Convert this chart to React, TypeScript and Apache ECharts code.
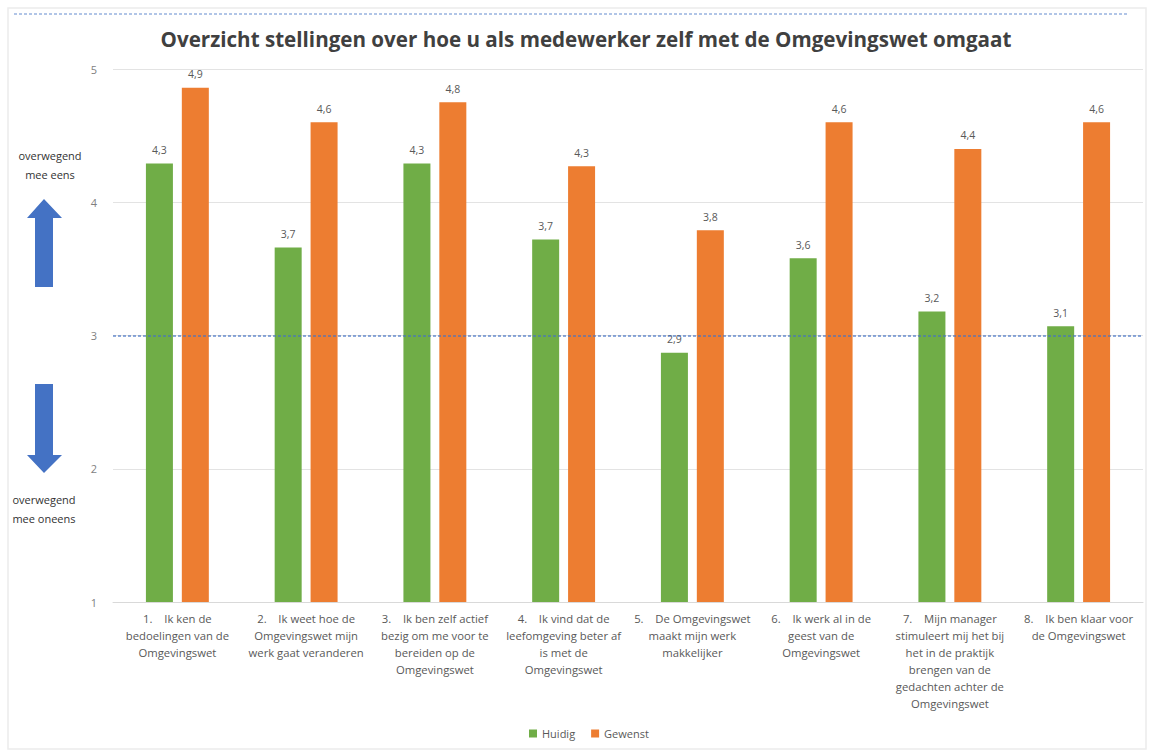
import React, { useEffect, useRef } from "react";
import * as echarts from "echarts";

const categories: string[] = [
  "1.    Ik ken de\nbedoelingen van de\nOmgevingswet",
  "2.    Ik weet hoe de\nOmgevingswet mijn\nwerk gaat veranderen",
  "3.    Ik ben zelf actief\nbezig om me voor te\nbereiden op de\nOmgevingswet",
  "4.    Ik vind dat de\nleefomgeving beter af\nis met de\nOmgevingswet",
  "5.    De Omgevingswet\nmaakt mijn werk\nmakkelijker",
  "6.    Ik werk al in de\ngeest van de\nOmgevingswet",
  "7.    Mijn manager\nstimuleert mij het bij\nhet in de praktijk\nbrengen van de\ngedachten achter de\nOmgevingswet",
  "8.    Ik ben klaar voor\nde Omgevingswet",
];
const huidig: number[] = [4.29, 3.66, 4.29, 3.72, 2.87, 3.58, 3.18, 3.07];
const gewenst: number[] = [4.86, 4.6, 4.75, 4.27, 3.79, 4.6, 4.4, 4.6];
const seriesNames = ["Huidig", "Gewenst"];
const yTicks = { min: 1, max: 5, interval: 1 };
const referenceValue = 3;
const title = "Overzicht stellingen over hoe u als medewerker zelf met de Omgevingswet omgaat";

const FONT = "'Open Sans', 'Noto Sans', sans-serif";
const GREEN = "#70AD47";
const ORANGE = "#ED7D31";
const BLUE = "#4472C4";
const TXT = "#595959";

const fmt = (p: any) => Number(p.value).toFixed(1).replace(".", ",");

export default function App() {
  const ref = useRef<HTMLDivElement>(null);
  useEffect(() => {
    document.body.style.margin = "0";
    if (!ref.current) return;
    const chart = echarts.init(ref.current, undefined, { renderer: "svg" });
    chart.setOption({
      animation: false,
      backgroundColor: "#ffffff",
      textStyle: { fontFamily: FONT },
      title: {
        text: title,
        left: 581,
        textAlign: "center",
        top: 23,
        textStyle: { fontFamily: FONT, fontSize: 20.6, fontWeight: "bold", color: "#404040" },
      },
      legend: {
        data: seriesNames,
        bottom: 9,
        left: 524,
        itemWidth: 8,
        itemHeight: 8,
        itemGap: 16,
        icon: "rect",
        textStyle: { fontFamily: FONT, fontSize: 11, color: TXT },
      },
      grid: { left: 113, right: 6, top: 69, bottom: 151, containLabel: false },
      xAxis: {
        type: "category",
        data: categories,
        axisLine: { lineStyle: { color: "#d9d9d9" } },
        axisTick: { show: false },
        axisLabel: {
          interval: 0,
          margin: 8,
          fontFamily: FONT,
          fontSize: 11.3,
          lineHeight: 17,
          color: TXT,
        },
      },
      yAxis: {
        type: "value",
        min: yTicks.min,
        max: yTicks.max,
        interval: yTicks.interval,
        axisLine: { show: false },
        axisTick: { show: false },
        splitLine: { lineStyle: { color: "#e3e3e3" } },
        axisLabel: { margin: 16, fontFamily: FONT, fontSize: 11, color: "#7f7f7f" },
      },
      series: [
        {
          name: seriesNames[0],
          type: "bar",
          data: huidig,
          barWidth: 27,
          barGap: "33%",
          itemStyle: { color: GREEN },
          label: { show: true, position: "top", distance: 8, formatter: fmt, fontFamily: FONT, fontSize: 10.5, color: TXT },
          markLine: {
            silent: true,
            symbol: "none",
            label: { show: false },
            lineStyle: { color: BLUE, type: [3, 2], width: 1.5, opacity: 0.8 },
            data: [{ yAxis: referenceValue }],
          },
        },
        {
          name: seriesNames[1],
          type: "bar",
          data: gewenst,
          barWidth: 27,
          barGap: "33%",
          itemStyle: { color: ORANGE },
          label: { show: true, position: "top", distance: 8, formatter: fmt, fontFamily: FONT, fontSize: 10.5, color: TXT },
        },
      ],
      graphic: [
        {
          type: "rect",
          silent: true,
          z: -10,
          shape: { x: 8, y: 8, width: 1138, height: 741 },
          style: { fill: "none", stroke: "#ececec", lineWidth: 1.5 },
        },
        {
          type: "line",
          silent: true,
          shape: { x1: 14, y1: 14, x2: 1127, y2: 14 },
          style: { stroke: BLUE, lineWidth: 1.5, lineDash: [3, 2], opacity: 0.55 },
        },
        {
          type: "text",
          silent: true,
          style: {
            x: 50, y: 146, text: "overwegend\nmee eens", align: "center",
            fontFamily: FONT, fontSize: 11, lineHeight: 19, fill: "#333333",
          },
        },
        {
          type: "polygon",
          silent: true,
          shape: {
            points: [[44, 199], [62, 218], [53, 218], [53, 287], [35, 287], [35, 218], [27, 218]],
          },
          style: { fill: BLUE },
        },
        {
          type: "polygon",
          silent: true,
          shape: {
            points: [[35, 384], [53, 384], [53, 455], [62, 455], [44, 473], [27, 455], [35, 455]],
          },
          style: { fill: BLUE },
        },
        {
          type: "text",
          silent: true,
          style: {
            x: 44, y: 490, text: "overwegend\nmee oneens", align: "center",
            fontFamily: FONT, fontSize: 11, lineHeight: 19, fill: "#333333",
          },
        },
      ],
    });
    return () => chart.dispose();
  }, []);
  return <div ref={ref} style={{ width: 1149, height: 753 }} />;
}
